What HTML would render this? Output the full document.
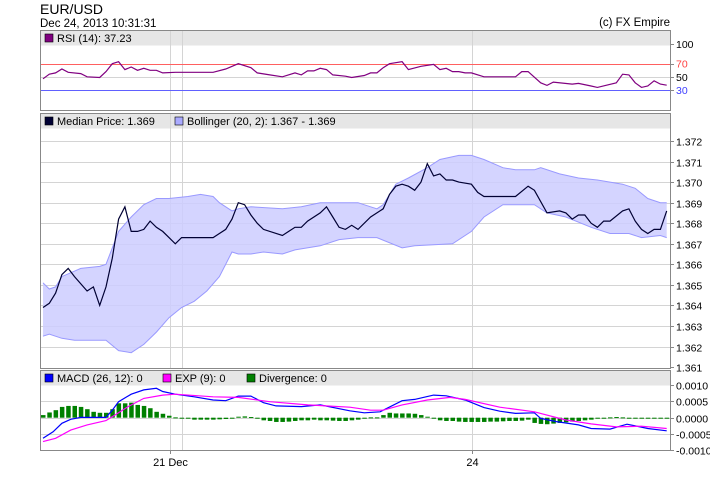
<!DOCTYPE html>
<html><head><meta charset="utf-8"><style>
body{margin:0;background:#fff;}
svg{display:block;font-family:"Liberation Sans",Arial,sans-serif;}
</style></head><body>
<svg id="c" width="710" height="487" viewBox="0 0 710 487">
<text x="40" y="14" font-size="14" fill="#000">EUR/USD</text>
<text x="40" y="27" font-size="11.5" fill="#000">Dec 24, 2013 10:31:31</text>
<text x="670" y="26" font-size="11.5" fill="#000" text-anchor="end">(c) FX Empire</text>
<g id="g"></g>
</svg>
<script>
// ---- data ----
const priceIdx=[0,1,2,3,4,5,7,8,9,10,11,12,13,14,15,16,17,18,19,20,21,22,27,28,29,30,31,32,33,34,35,38,39,40,41,42,44,45,46,47,48,49,50,52,54,55,56,57,58,59,60,61,62,63,64,65,66,68,69,70,75,77,78,80,82,83,84,85,86,87,88,89,90,92,93,94,95,96,97,98,99];
const price=[1.3639,1.3641,1.3646,1.3655,1.3658,1.3654,1.3647,1.3649,1.3640,1.3649,1.3663,1.3682,1.3688,1.3676,1.3676,1.3677,1.3681,1.3678,1.3676,1.3673,1.3670,1.3673,1.3673,1.3675,1.3677,1.3682,1.3690,1.3689,1.3684,1.3680,1.3677,1.3674,1.3676,1.3678,1.3678,1.3681,1.3685,1.3688,1.3683,1.3678,1.3677,1.3679,1.3677,1.3683,1.3687,1.3694,1.3698,1.3699,1.3698,1.3696,1.3700,1.3709,1.3703,1.3704,1.3701,1.3701,1.3700,1.3699,1.3695,1.3693,1.3693,1.3698,1.3696,1.3685,1.3686,1.3685,1.3682,1.3684,1.3684,1.3680,1.3678,1.3681,1.3681,1.3686,1.3687,1.3681,1.3677,1.3675,1.3677,1.3677,1.3686];
const upperIdx=[0,1,2,3,6,9,10,11,12,14,16,18,20,23,25,27,28,30,31,33,38,41,44,47,50,52,53,54,56,58,61,63,66,68,70,73,75,78,79,82,85,88,92,94,96,98,99];
const upper=[1.3651,1.3648,1.3649,1.3654,1.3658,1.3659,1.3660,1.3668,1.3676,1.3683,1.3689,1.3692,1.3692,1.3693,1.3694,1.3693,1.3690,1.3686,1.3687,1.3688,1.3687,1.3688,1.3690,1.3690,1.3690,1.3688,1.3687,1.3689,1.3699,1.3702,1.3707,1.3711,1.3713,1.3713,1.3711,1.3707,1.3706,1.3706,1.3707,1.3704,1.3702,1.3701,1.3699,1.3697,1.3692,1.3690,1.3690];
const lowerIdx=[0,1,3,5,10,12,14,16,18,20,22,24,26,28,30,31,33,35,38,40,44,47,50,53,57,59,65,68,70,73,75,78,80,83,87,90,93,95,98,99];
const lower=[1.3625,1.3626,1.3624,1.3623,1.3623,1.3618,1.3617,1.3621,1.3627,1.3634,1.3639,1.3642,1.3647,1.3654,1.3666,1.3665,1.3665,1.3666,1.3665,1.3667,1.3669,1.3672,1.3673,1.3673,1.3668,1.3669,1.3670,1.3676,1.3683,1.3689,1.3689,1.3689,1.3685,1.3683,1.3678,1.3675,1.3675,1.3673,1.3674,1.3673];
const rsiIdx=[0,1,2,3,4,6,7,9,10,11,12,13,14,15,16,17,18,19,21,27,29,31,33,34,36,38,40,41,42,43,44,45,46,48,49,51,52,53,54,55,57,58,60,62,63,64,65,66,67,68,70,75,76,77,79,80,81,84,85,87,88,91,92,93,94,95,96,97,98,99];
const rsi=[47,54,56,62,57,55,50,49,58,70,73,61,65,60,63,60,60,56,57,57,62,70,64,56,53,50,56,53,59,59,63,61,53,51,49,52,56,56,64,70,73,61,66,69,61,63,58,58,56,56,50,50,58,58,41,37,42,39,40,36,34,41,54,53,41,34,36,44,39,37.23];
const macdIdx=[0,1.6,3,4.4,6,10,11,12,14,16,18,19,21,24,27,29,31,33,35,37,41,44,48.7,51,53.5,57,59,62,64,67,70,72.5,75,78,79,81.5,85,87,90,92.7,94.8,96,99];
const macd=[-6.3,-4.3,-1.7,-0.5,0.1,0.1,2.3,4.9,7.2,8.5,9.0,8.0,7.2,6.4,5.4,5.2,6.6,6.6,4.6,3.6,3.4,3.9,2.1,1.5,1.8,5.2,5.6,6.9,6.7,5.4,3.1,2.0,1.3,1.5,-0.2,-1.2,-2.2,-3.3,-3.5,-2.0,-2.8,-3.3,-4.0];
const expIdx=[0,2,4.4,7,10,11.4,13.5,16,19,21,27,31,36,42,48.7,52,54,57,61,64.6,67,72.5,78,83,87,91,95,99];
const expv=[-7.3,-6.3,-3.8,-2.2,-0.9,0.8,3.4,5.9,6.9,7.2,6.4,6.2,4.9,3.9,3.2,2.3,2.3,3.9,5.4,6.2,5.6,3.2,1.8,-0.7,-1.9,-2.8,-2.6,-3.3];
const diverg=[0.8,1.6,2.3,3.3,3.6,3.6,3.3,2.6,1.8,1.5,1.5,2.6,4.4,4.4,4.6,3.9,3.6,2.9,1.8,1.2,
0.6,0.1,-0.2,-0.3,-0.6,-0.6,-0.6,-0.6,-0.5,-0.4,-0.2,0.3,0.4,0.2,-0.3,-0.8,-1.0,-1.3,-1.3,-1.2,
-1.0,-0.8,-0.8,-0.6,-0.8,-0.8,-0.9,-1.0,-1.0,-0.8,-0.6,-0.1,0.1,0.1,0.8,1.5,1.3,1.3,1.3,1.2,
0.8,0.3,-0.1,-0.8,-1.0,-1.0,-1.2,-1.3,-1.3,-1.3,-1.3,-1.2,-1.2,-1.1,-1.0,-1.0,-0.9,-0.6,-1.6,-1.9,
-2.0,-1.8,-1.6,-1.4,-1.2,-1.0,-0.8,-0.6,-0.3,-0.1,0.1,0.2,0.1,-0.1,-0.3,-0.3,-0.3,-0.3,-0.3,-0.3];
const priceTicks=["1.361","1.362","1.363","1.364","1.365","1.366","1.367","1.368","1.369","1.370","1.371","1.372"];
const macdTicks=["0.0010","0.0005","0.0000","-0.0005","-0.0010"];
const rsiTicks=[100,70,50,30];
const dateLabels=["21 Dec","24"];
const dateIdx=[20.2,68.1];

// ---- scales ----
const L=40,R=670;
const x=i=>43+i*6.3;
const yP=v=>141+(1.372-v)*20550;
const yR=v=>109.7-v*0.657;
const yM=v=>417.7-v*3.27;
const NS="http://www.w3.org/2000/svg";
const g=document.getElementById('g');
function el(t,a,p){const e=document.createElementNS(NS,t);for(const k in a)e.setAttribute(k,a[k]);(p||g).appendChild(e);return e;}
function pts(idx,vals,f){return idx.map((d,k)=>x(d).toFixed(1)+','+f(vals[k]).toFixed(1)).join(' ');}

const panels=[[30,110],[113,368],[370,450]];
panels.forEach((p,k)=>{
  const r=el('rect',{x:L+0.5,y:p[0]+0.5,width:R-L,height:p[1]-p[0],fill:'#fff',stroke:'none'});
  
  
  const h=el('rect',{x:L+0.5,y:p[0]+0.5,width:R-L,height:15,fill:'#e6e6e6'});
  
  
});
[170,182,472].forEach(vx=>panels.forEach(p=>{
  const l=el('line',{x1:vx+0.5,x2:vx+0.5,y1:p[0],y2:p[1],stroke:'#d4d4d4'});
  
  
}));
rsiTicks.forEach(v=>{
  const c=v==70?'#ff6060':v==30?'#6060ff':'#d4d4d4';
  if(v!==100){const l=el('line',{x1:L,x2:R,y1:Math.round(yR(v))+0.5,y2:Math.round(yR(v))+0.5,stroke:c});
  
  }
  el('line',{x1:R,x2:R+4,y1:Math.round(yR(v))+0.5,y2:Math.round(yR(v))+0.5,stroke:'#888'});
  const t=el('text',{x:R+6,y:yR(v)+4,'font-size':10.5,fill:v==70?'#ff4040':v==30?'#4040ff':'#000'});
  t.textContent=v;
  
  
});
priceTicks.forEach(s=>{
  const yy=Math.round(yP(parseFloat(s)))+0.5;
  if(yy>130&&yy<367){const l=el('line',{x1:L,x2:R,y1:yy,y2:yy,stroke:'#d4d4d4'});
  
  }
  el('line',{x1:R,x2:R+4,y1:yy,y2:yy,stroke:'#888'});
  const t=el('text',{x:R+6,y:yy+4,'font-size':10.5,fill:'#000'});
  t.textContent=s;
  
  
});
macdTicks.forEach(s=>{
  const yy=Math.round(yM(parseFloat(s)*1e4))+0.5;
  if(yy>386&&yy<449){const l=el('line',{x1:L,x2:R,y1:yy,y2:yy,stroke:'#d4d4d4'});
  
  }
  el('line',{x1:R,x2:R+4,y1:yy,y2:yy,stroke:'#888'});
  const t=el('text',{x:R+6,y:yy+4,'font-size':10.5,fill:'#000'});
  t.textContent=s;
  
  
});
const bandPts=upperIdx.map((d,k)=>x(d)+','+yP(upper[k])).concat(lowerIdx.slice().reverse().map((d,k)=>x(d)+','+yP(lower[lower.length-1-k])));
const band=el('polygon',{points:bandPts.join(' '),fill:'#ccccff',stroke:'none','fill-opacity':0.85});


const ub=el('polyline',{points:pts(upperIdx,upper,yP),fill:'none',stroke:'#9999ff','stroke-width':1});


const lb=el('polyline',{points:pts(lowerIdx,lower,yP),fill:'none',stroke:'#9999ff','stroke-width':1});


const pl=el('polyline',{points:pts(priceIdx,price,yP),fill:'none',stroke:'#000033','stroke-width':1.2});


const rl=el('polyline',{points:pts(rsiIdx,rsi,yR),fill:'none',stroke:'#800080','stroke-width':1.2});


diverg.forEach((v,i)=>{
  const y0=yM(0),y1=yM(v);
  const b=el('rect',{x:x(i)-2,y:Math.min(y0,y1),width:4.5,height:Math.max(1,Math.abs(y1-y0)),fill:'#008000'});
  
  
});
const ml=el('polyline',{points:pts(macdIdx,macd,yM),fill:'none',stroke:'#0000ff','stroke-width':1.2});


const el2=el('polyline',{points:pts(expIdx,expv,yM),fill:'none',stroke:'#ff00ff','stroke-width':1.2});


panels.forEach(p=>{
  const b=el('rect',{x:L+0.5,y:p[0]+0.5,width:R-L,height:p[1]-p[0],fill:'none',stroke:'#888'});
  
  
});
function legend(xp,yp,color,text,name){
  const s=el('rect',{x:xp,y:yp-8,width:8,height:8,fill:color,stroke:'#000','stroke-width':0.6});
  
  
  const t=el('text',{x:xp+12,y:yp,'font-size':11,fill:'#000'});
  t.textContent=text;
  
  
}
legend(45,42,'#800080','RSI (14): 37.23','legend-rsi');
legend(45,125,'#000033','Median Price: 1.369','legend-median-price');
legend(175,125,'#aaaaff','Bollinger (20, 2): 1.367 - 1.369','legend-bollinger');
legend(45,382,'#0000ff','MACD (26, 12): 0','legend-macd');
legend(163,382,'#ff00ff','EXP (9): 0','legend-exp');
legend(247,382,'#008000','Divergence: 0','legend-divergence');
dateLabels.forEach((s,k)=>{
  const xx=Math.round(x(dateIdx[k]))+0.5;
  el('line',{x1:xx,x2:xx,y1:450,y2:454,stroke:'#888'});
  const t=el('text',{x:xx,y:466,'font-size':11,'text-anchor':'middle',fill:'#000'});
  t.textContent=s;
  
  
});
</script>
</body></html>
